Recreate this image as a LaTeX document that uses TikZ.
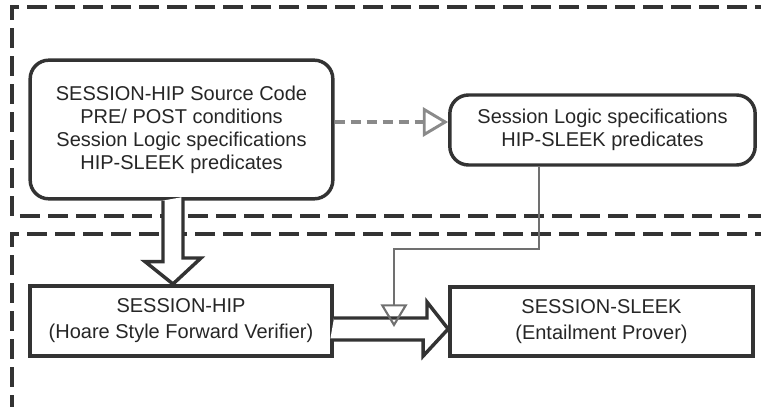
\documentclass[tikz,border=0pt]{standalone}
\usepackage{fontspec}
\setmainfont{Liberation Sans}
\usetikzlibrary{arrows.meta,calc}
\definecolor{edge}{HTML}{333333}
\definecolor{link}{HTML}{8A8A8A}
\definecolor{feed}{HTML}{707070}

\begin{document}
\begin{tikzpicture}[x=0.75pt,y=-0.75pt,
	txt/.style={font=\fontsize{15}{17.25}\selectfont,text=black!85,align=center,inner sep=0pt},
	roundbox/.style={txt,draw=edge,line width=2.6pt,rounded corners=14pt},
	sqbox/.style={txt,draw=edge,line width=3pt,font=\fontsize{15}{19.5}\selectfont},
	zone/.style={draw=edge,line width=2.8pt,dash pattern=on 15pt off 6pt},
	bigarrow/.style={draw=edge,line width=2.6pt,fill=white,line join=miter},
	specline/.style={draw=link,line width=2.4pt,dash pattern=on 8pt off 4pt,-{Triangle[open,length=19pt,width=22pt,line width=2.2pt]}},
	feedline/.style={draw=feed,line width=1.8pt,-{Triangle[open,length=17pt,width=20pt,line width=1.6pt]}}]
		\useasboundingbox (0,0) rectangle (761,407);
		%区域
		\draw[zone] (775,7) -- (12,7) -- (12,216) -- (775,216);
		\draw[zone] (775,234) -- (12,234) -- (12,420);
		%输入
		\node[roundbox,minimum width=227pt,minimum height=104pt] (src) at (181.5,129.5)
			{SESSION-HIP Source Code\\PRE/ POST conditions\\Session Logic specifications\\HIP-SLEEK predicates};
		\node[roundbox,minimum width=229pt,minimum height=52.5pt] (spec) at (602.5,130)
			{Session Logic specifications\\HIP-SLEEK predicates};
		%验证器
		\node[sqbox,minimum width=226.5pt,minimum height=52.5pt] (hip) at (181,321)
			{SESSION-HIP\\(Hoare Style Forward Verifier)};
		\node[sqbox,minimum width=227pt,minimum height=52pt] (sleek) at (601.5,321.5)
			{SESSION-SLEEK\\(Entailment Prover)};
		\coordinate (in) at ($(hip.east)+(60,6)$);
		%连接
		\draw[specline] ($(src.east)+(0,-7.5)$) -- ($(spec.west)+(0,-8)$);
		\draw[bigarrow] ($(src.south)+(-18.5,0)$) -- ++(0,61) -- ++(-18,0) -- ($(hip.north)+(-8,0)$)
			-- ++(28,-26) -- ++(-18,0) -- ++(0,-61);
		\draw[bigarrow] ($(hip.east)+(0,-3)$) -- ++(93,0) -- ++(0,-16) -- ($(sleek.west)+(0,7.5)$)
			-- ++(-25,27) -- ++(0,-16) -- ++(-93,0);
		\draw[feedline] ($(spec.south)+(-63.5,0)$) -- ++(0,82) -| (in);
	\end{tikzpicture}
\end{document}
